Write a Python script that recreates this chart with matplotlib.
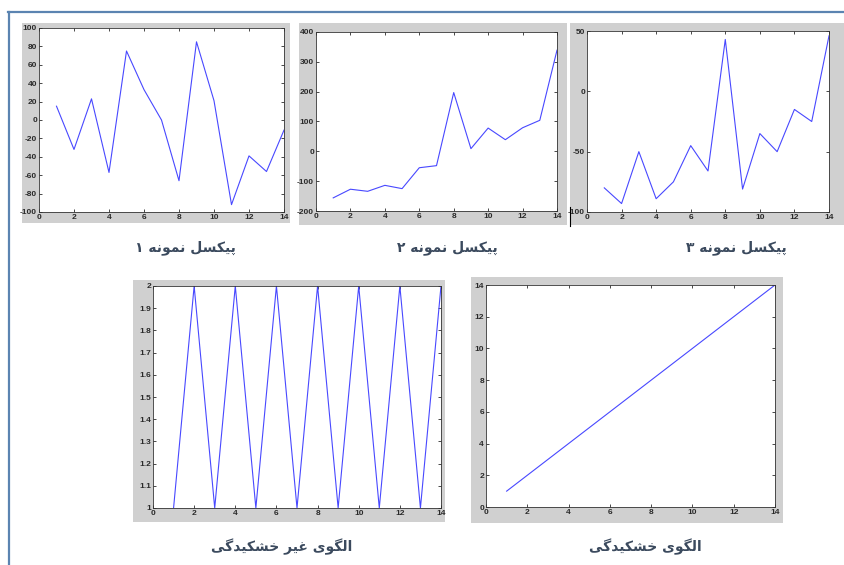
import matplotlib
matplotlib.use("Agg")
import matplotlib.pyplot as plt
from matplotlib.patches import Rectangle
from matplotlib.lines import Line2D
import numpy as np

plt.rcParams['axes.unicode_minus'] = False

W, H = 845, 565

# data
x = list(range(1, 15))
pixel1 = [15, -32, 23, -57, 75, 33, 0, -66, 85, 21, -92, -39, -56, -11]
pixel2 = [-156, -127, -134, -114, -125, -55, -48, 197, 9, 78, 39, 79, 104, 339]
pixel3 = [-80, -93, -50, -89, -75, -45, -66, 43, -81, -35, -50, -15, -25, 46]
non_dry = [1, 2, 1, 2, 1, 2, 1, 2, 1, 2, 1, 2, 1, 2]
dry = [1, 2, 3, 4, 5, 6, 7, 8, 9, 10, 11, 12, 13, 14]

captions = ["پیکسل نمونه ۱", "پیکسل نمونه ۲", "پیکسل نمونه ۳",
            "الگوی غیر خشکیدگی", "الگوی خشکیدگی"]

# Arabic presentation forms: isolated, final, initial, medial
FORMS = {
    'ا': ('\uFE8D', '\uFE8E', None, None),
    'د': ('\uFEA9', '\uFEAA', None, None),
    'ر': ('\uFEAD', '\uFEAE', None, None),
    'و': ('\uFEED', '\uFEEE', None, None),
    'پ': ('\uFB56', '\uFB57', '\uFB58', '\uFB59'),
    'ی': ('\uFBFC', '\uFBFD', '\uFBFE', '\uFBFF'),
    'ک': ('\uFB8E', '\uFB8F', '\uFB90', '\uFB91'),
    'گ': ('\uFB92', '\uFB93', '\uFB94', '\uFB95'),
    'س': ('\uFEB1', '\uFEB2', '\uFEB3', '\uFEB4'),
    'ش': ('\uFEB5', '\uFEB6', '\uFEB7', '\uFEB8'),
    'ل': ('\uFEDD', '\uFEDE', '\uFEDF', '\uFEE0'),
    'ن': ('\uFEE5', '\uFEE6', '\uFEE7', '\uFEE8'),
    'م': ('\uFEE1', '\uFEE2', '\uFEE3', '\uFEE4'),
    'ه': ('\uFEE9', '\uFEEA', '\uFEEB', '\uFEEC'),
    'غ': ('\uFECD', '\uFECE', '\uFECF', '\uFED0'),
    'خ': ('\uFEA5', '\uFEA6', '\uFEA7', '\uFEA8'),
}


def shape(s):
    out = []
    for i, c in enumerate(s):
        if c not in FORMS:
            out.append(c)
            continue
        prev = s[i-1] if i > 0 else None
        nxt = s[i+1] if i + 1 < len(s) else None
        jp = prev in FORMS and FORMS[prev][2] is not None
        jn = nxt in FORMS and FORMS[c][2] is not None
        iso, fin, ini, med = FORMS[c]
        if jp and jn:
            out.append(med)
        elif jp:
            out.append(fin)
        elif jn:
            out.append(ini)
        else:
            out.append(iso)
    return ''.join(out)[::-1]


fig = plt.figure(figsize=(W/100, H/100), dpi=100)
fig.patch.set_facecolor('white')


def fbox(l, r, t, b):
    return [l/W, 1 - b/H, (r-l)/W, (b-t)/H]


def frame(l, r, t, b):
    fig.patches.append(Rectangle((l/W, 1 - b/H), (r-l)/W, (b-t)/H,
                                 transform=fig.transFigure, facecolor='#d0d0d0',
                                 edgecolor='none', zorder=-5))


def panel(ax_px, fr_px, ys, ylim, yticks, ylabels=None):
    frame(*fr_px)
    ax = fig.add_axes(fbox(*ax_px))
    ax.set_zorder(2)
    ax.plot(x, ys, color='#4848ff', lw=0.8)
    ax.set_xlim(0, 14)
    ax.set_ylim(*ylim)
    ax.set_xticks(range(0, 15, 2))
    ax.set_yticks(yticks)
    if ylabels is not None:
        ax.set_yticklabels(ylabels)
    ax.tick_params(direction='in', length=2, width=0.5, top=True, right=True,
                   labelsize=6, labelcolor='#2a2a2a', pad=1.5)
    for lab in ax.get_xticklabels() + ax.get_yticklabels():
        lab.set_fontfamily('Liberation Sans')
        lab.set_fontweight('bold')
    for sp in ax.spines.values():
        sp.set_linewidth(0.6)
        sp.set_color('#333333')
    return ax


panel((39, 284, 28, 212), (22, 290, 23, 223), pixel1, (-100, 100), range(-100, 101, 20))
panel((316, 557, 32, 211), (299, 567, 23, 225), pixel2, (-200, 400), range(-200, 401, 100))
panel((587, 829, 31, 212), (570, 845, 23, 225), pixel3, (-100, 50), range(-100, 51, 50))
yt = np.round(np.arange(1, 2.01, 0.1), 1)
panel((153, 441, 286, 508), (133, 445, 280, 522), non_dry, (1, 2), yt,
      [('%g' % v) for v in yt])
panel((486, 775, 285, 507), (471, 783, 277, 523), dry, (0, 14), range(0, 15, 2))

cap_pos = [(185, 248), (447, 248), (736, 248), (282, 547), (645, 547)]
for (cx, cy), txt in zip(cap_pos, captions):
    fig.text(cx/W, 1 - cy/H, shape(txt), ha='center', va='center',
             fontsize=10, fontweight='bold', color='#3b4a5e',
             family=['DejaVu Sans'])

# page border lines
blue = '#5b84b1'
fig.add_artist(Line2D([8/W, 1], [1 - 12/H, 1 - 12/H], color=blue, lw=1.6,
                      transform=fig.transFigure))
fig.add_artist(Line2D([9/W, 9/W], [1 - 12/H, 0], color=blue, lw=1.6,
                      transform=fig.transFigure))
# small black bracket left of panel 3
fig.add_artist(Line2D([570/W, 570/W], [1 - 207/H, 1 - 226/H], color='black', lw=0.8,
                      transform=fig.transFigure, zorder=5))

fig.savefig('out.png', dpi=100)
